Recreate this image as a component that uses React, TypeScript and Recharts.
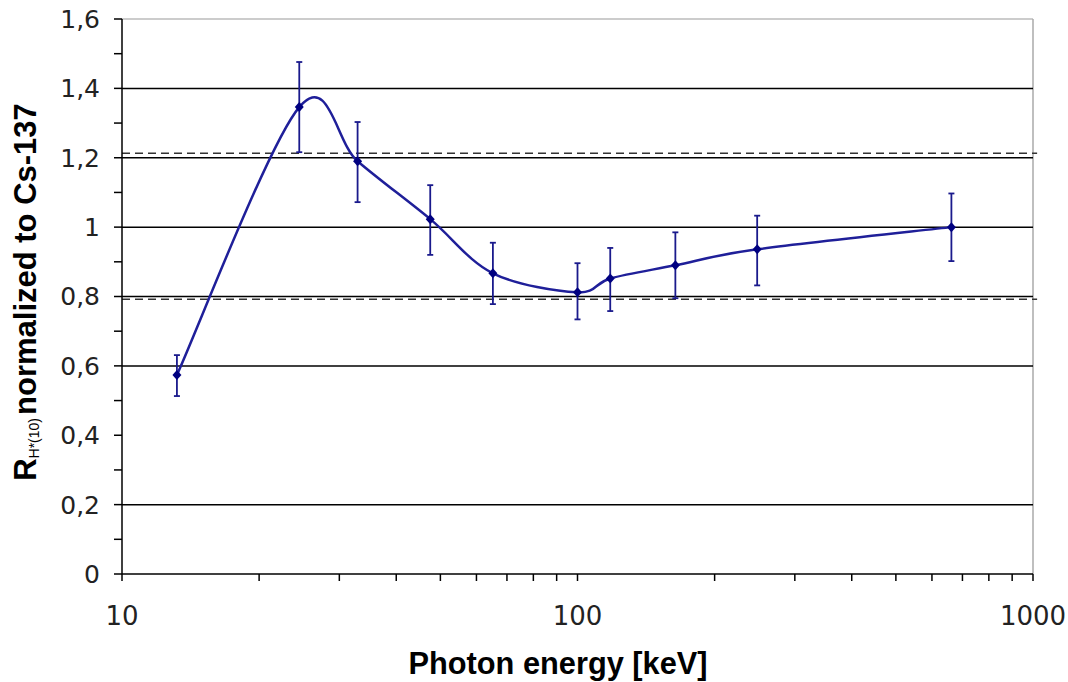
import React from "react";
import {
  LineChart,
  Line,
  XAxis,
  YAxis,
  ErrorBar,
  ReferenceLine,
} from "recharts";

// photon energies [keV] and normalized response
const energies = [13.2, 24.5, 32.9, 47.5, 65.2, 100, 118, 164, 248, 662];
const response = [0.574, 1.346, 1.19, 1.023, 0.867, 0.812, 0.852, 0.89, 0.936, 1.0];
const errLow = [0.061, 0.13, 0.118, 0.103, 0.089, 0.078, 0.094, 0.095, 0.104, 0.098];
const errHigh = [0.057, 0.13, 0.113, 0.098, 0.088, 0.084, 0.088, 0.095, 0.097, 0.097];

const xTicks = [10, 20, 30, 40, 50, 60, 70, 80, 90, 100, 200, 300, 400, 500, 600, 700, 800, 900, 1000];
const xLabelled = [10, 100, 1000];
const yTicks = [0, 0.1, 0.2, 0.3, 0.4, 0.5, 0.6, 0.7, 0.8, 0.9, 1, 1.1, 1.2, 1.3, 1.4, 1.5, 1.6];
const gridLines = [0.2, 0.6, 0.8, 1, 1.2, 1.4];
const limitLines = [1.213, 0.792];

const data = energies.map((e, i) => ({
  energy: e,
  r: response[i],
  err: [errLow[i], errHigh[i]],
}));

// Excel-like smoothed line (Catmull-Rom as cubic bezier)
function smoothCurve(context: any) {
  let pts: number[][] = [];
  return {
    areaStart() {},
    areaEnd() {},
    lineStart() {
      pts = [];
    },
    point(x: number, y: number) {
      pts.push([+x, +y]);
    },
    lineEnd() {
      if (!pts.length) return;
      context.moveTo(pts[0][0], pts[0][1]);
      for (let i = 0; i < pts.length - 1; i++) {
        const p0 = pts[i - 1] || pts[i];
        const p1 = pts[i];
        const p2 = pts[i + 1];
        const p3 = pts[i + 2] || p2;
        context.bezierCurveTo(
          p1[0] + (p2[0] - p0[0]) / 6,
          p1[1] + (p2[1] - p0[1]) / 6,
          p2[0] - (p3[0] - p1[0]) / 6,
          p2[1] - (p3[1] - p1[1]) / 6,
          p2[0],
          p2[1]
        );
      }
    },
  };
}

const Diamond = (props: any) => {
  const { cx, cy, index } = props;
  if (cx == null || cy == null) return <g key={index} />;
  return (
    <path
      key={index}
      d={`M${cx},${cy - 5}L${cx + 4.5},${cy}L${cx},${cy + 5}L${cx - 4.5},${cy}Z`}
      fill="#000080"
    />
  );
};

const fmtY = (v: number) => {
  const r = Math.round(v * 10);
  if (r % 2 !== 0) return "";
  return String(r / 10).replace(".", ",");
};

const YTitle = () => (
  <text
    transform="translate(36,292) rotate(-90)"
    textAnchor="middle"
    fontFamily="Liberation Sans, Arial, sans-serif"
    fontWeight="bold"
    fontSize={31}
    fill="#000"
  >
    <tspan>R</tspan>
    <tspan fontSize={14} fontWeight="normal" dy={3}>
      H*(10)
    </tspan>
    <tspan dy={-3} dx={3}>
      normalized to Cs-137
    </tspan>
  </text>
);

const XTitle = () => (
  <text
    x={558}
    y={674}
    textAnchor="middle"
    fontFamily="Liberation Sans, Arial, sans-serif"
    fontWeight="bold"
    fontSize={31}
    textLength={299}
    lengthAdjust="spacingAndGlyphs"
    fill="#000"
  >
    Photon energy [keV]
  </text>
);

export default function App() {
  return (
    <div style={{ width: 1068, height: 682, background: "#fff" }}>
      <style>{"body{margin:0}"}</style>
      <LineChart
        width={1068}
        height={682}
        data={data}
        margin={{ top: 19, right: 35, bottom: 0, left: 0 }}
      >
        <XAxis
          dataKey="energy"
          type="number"
          scale="log"
          domain={[10, 1000]}
          ticks={xTicks}
          interval={0}
          allowDataOverflow
          height={108}
          tickSize={7}
          tickMargin={26}
          tickFormatter={(v: number) => (xLabelled.includes(v) ? String(v) : "")}
          tick={{ fontFamily: "DejaVu Sans", fontSize: 26, fill: "#222" }}
          axisLine={{ stroke: "#000", strokeWidth: 1.5 }}
          tickLine={{ stroke: "#000", strokeWidth: 1.5 }}
          label={{ content: () => <XTitle /> }}
        />
        <YAxis
          type="number"
          domain={[0, 1.6]}
          ticks={yTicks}
          interval={0}
          width={122}
          tickSize={8}
          tickMargin={14}
          tickFormatter={fmtY}
          tick={{ fontFamily: "DejaVu Sans", fontSize: 25, fill: "#222" }}
          axisLine={{ stroke: "#000", strokeWidth: 1.5 }}
          tickLine={{ stroke: "#000", strokeWidth: 1.5 }}
          label={{ content: () => <YTitle /> }}
        />
        <ReferenceLine y={1.6} stroke="#bbb" strokeWidth={1.5} />
        <ReferenceLine x={1000} stroke="#aaa" strokeWidth={1.5} />
        {gridLines.map((v) => (
          <ReferenceLine key={v} y={v} stroke="#000" strokeWidth={1.5} />
        ))}
        {limitLines.map((v) => (
          <ReferenceLine
            key={v}
            segment={[
              { x: 10, y: v },
              { x: 1021, y: v },
            ]}
            ifOverflow="visible"
            stroke="#333"
            strokeWidth={1.5}
            strokeDasharray="8 5"
          />
        ))}
        <Line
          dataKey="r"
          type={smoothCurve as any}
          stroke="#1f1f99"
          strokeWidth={2.5}
          dot={Diamond}
          activeDot={false}
          isAnimationActive={false}
        >
          <ErrorBar
            dataKey="err"
            direction="y"
            width={3}
            stroke="#1a1a8c"
            strokeWidth={1.8}
            isAnimationActive={false}
          />
        </Line>
      </LineChart>
    </div>
  );
}
